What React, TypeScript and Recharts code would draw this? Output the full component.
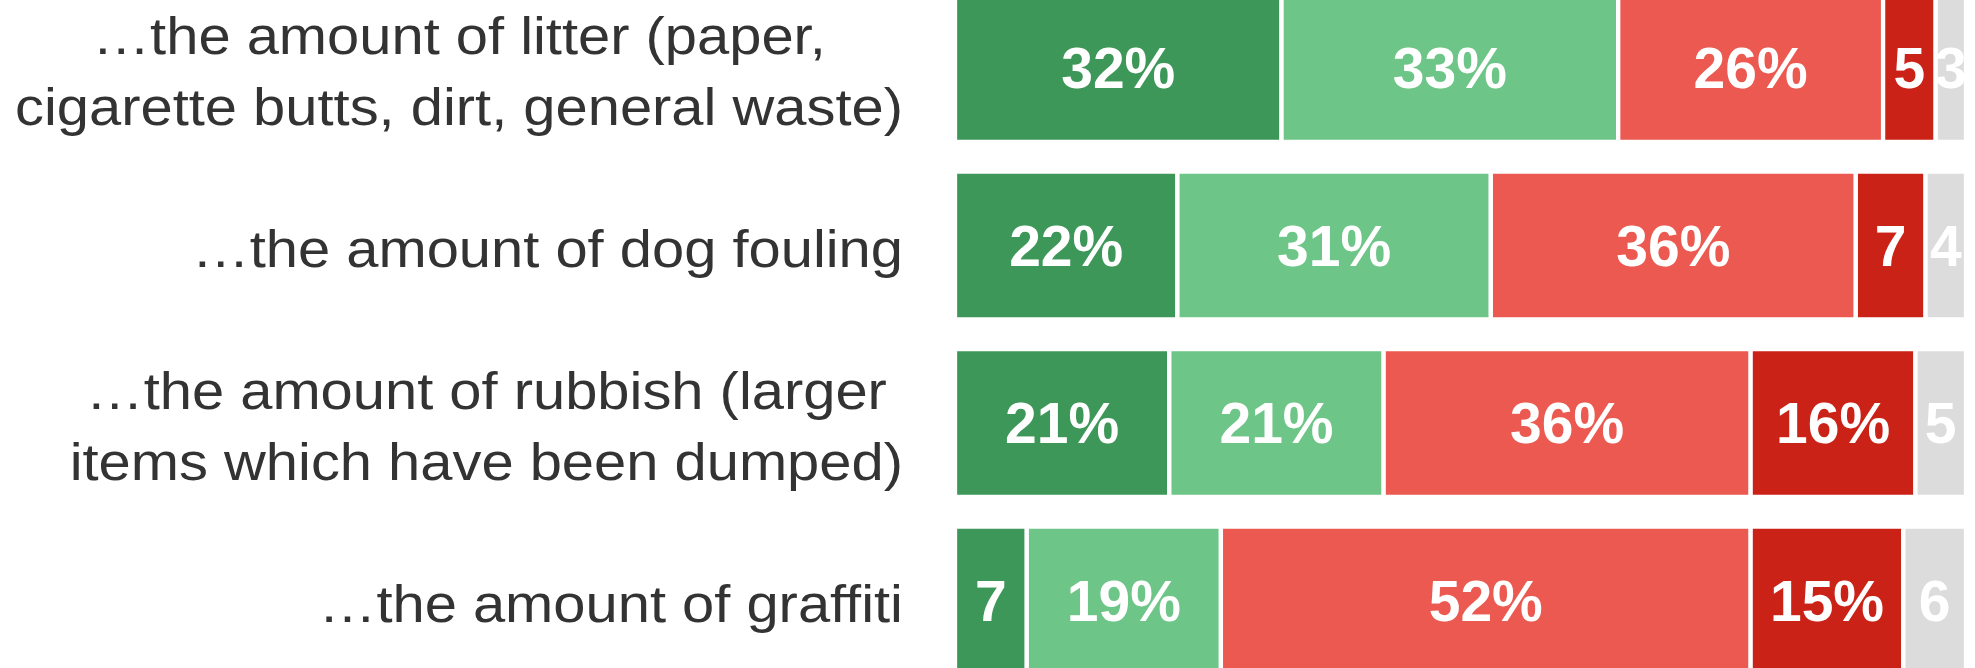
import React from 'react';
import { BarChart, Bar, XAxis, YAxis, LabelList } from 'recharts';

const categories = [
  '…the amount of litter (paper, cigarette butts, dirt, general waste)',
  '…the amount of dog fouling',
  '…the amount of rubbish (larger items which have been dumped)',
  '…the amount of graffiti',
];
const categoryLines = [
  ['…the amount of litter (paper,', 'cigarette butts, dirt, general waste)'],
  ['…the amount of dog fouling'],
  ['…the amount of rubbish (larger', 'items which have been dumped)'],
  ['…the amount of graffiti'],
];

const seriesKeys = ['s1', 's2', 's3', 's4', 's5'];
const s1 = [32.3, 22.0, 21.2, 7.1];
const s2 = [33.3, 31.0, 21.2, 19.2];
const s3 = [26.2, 36.1, 36.3, 52.4];
const s4 = [5.2, 6.9, 16.3, 15.1];
const s5 = [3.0, 4.0, 5.0, 6.2];
const seriesValues = [s1, s2, s3, s4, s5];
const colors = ['#3d9758', '#6dc587', '#eb5950', '#cb2217', '#dcdcdc'];

const data = categories.map((name, i) => {
  const row: any = { name };
  seriesKeys.forEach((k, j) => {
    row[k] = seriesValues[j][i];
  });
  return row;
});

const FONT = '"Liberation Sans", Arial, Helvetica, sans-serif';
const CAT_FS = 51;
const SX = 1.135;
const LINE_H = 70.5;
const BASE_DY = 21.5;

let ctx: any = null;
const measure = (text: string) => {
  if (!ctx) ctx = document.createElement('canvas').getContext('2d');
  ctx.font = `${CAT_FS}px "Liberation Sans"`;
  return ctx.measureText(text).width;
};

const CategoryTick = (props: any) => {
  const { x, y, payload } = props;
  const idx = categories.indexOf(payload.value);
  const lines = idx >= 0 ? categoryLines[idx] : [String(payload.value)];
  const widths = lines.map((l) => measure(l) * SX);
  const maxW = Math.max(...widths);
  const cx = x - maxW / 2;
  return (
    <g>
      {lines.map((l, i) => {
        const cy = y + (i - (lines.length - 1) / 2) * LINE_H + BASE_DY;
        return (
          <text
            key={i}
            transform={`translate(${cx},${cy}) scale(${SX},1)`}
            x={0}
            y={0}
            textAnchor="middle"
            fontSize={CAT_FS}
            fontFamily={FONT}
            fill="#333333"
          >
            {l}
          </text>
        );
      })}
    </g>
  );
};

const fmt = (v: any) => {
  const n = Math.round(Number(v));
  return n >= 10 ? `${n}%` : `${n}`;
};

export default function App() {
  return (
    <div style={{ width: 1975, height: 668, overflow: 'hidden', position: 'relative', background: '#fff' }}>
      <style>{`body{margin:0;}`}</style>
      <div style={{ position: 'absolute', left: 0, top: -50.75 }}>
        <BarChart
          width={2001}
          height={770}
          data={data}
          layout="vertical"
          margin={{ top: 30, right: 35, bottom: 30, left: 0 }}
          barSize={148}
        >
          <XAxis type="number" domain={[0, 100]} hide />
          <YAxis
            type="category"
            dataKey="name"
            width={955}
            axisLine={false}
            tickLine={false}
            tickSize={0}
            tickMargin={52}
            interval={0}
            tick={<CategoryTick />}
          />
          {seriesKeys.map((k, j) => (
            <Bar
              key={k}
              dataKey={k}
              stackId="a"
              fill={colors[j]}
              stroke="#ffffff"
              strokeWidth={4.3}
              isAnimationActive={false}
            >
              <LabelList
                dataKey={k}
                position="center"
                fill="#ffffff"
                stroke="none"
                fontSize={57}
                fontWeight={700}
                fontFamily={FONT}
                formatter={fmt}
              />
            </Bar>
          ))}
        </BarChart>
      </div>
    </div>
  );
}
